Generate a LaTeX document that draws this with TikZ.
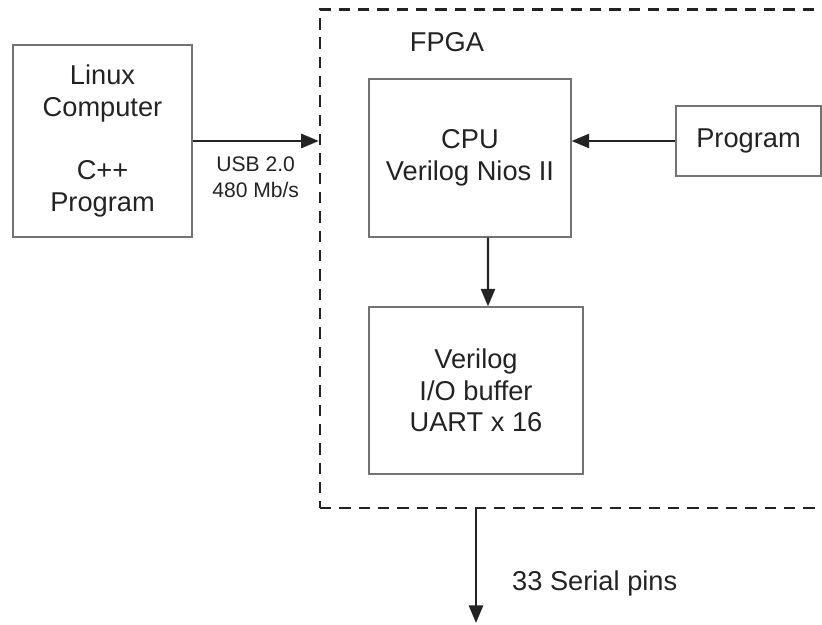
\documentclass[tikz,border=0pt]{standalone}
\usepackage{fontspec}
\setmainfont{Liberation Sans}
\usetikzlibrary{positioning, arrows.meta}
\definecolor{BoxGray}{RGB}{115,115,115}
\definecolor{InkGray}{RGB}{35,35,35}

\begin{document}
\begin{tikzpicture}[
    block/.style={draw=BoxGray, line width=0.7pt, align=center, text=InkGray,
      font=\fontsize{15.5}{18}\selectfont, inner sep=0pt},
    flow/.style={draw=InkGray, line width=1.4pt, -{Triangle[length=10pt,width=8pt]}},
    lbl/.style={text=InkGray, font=\fontsize{15.5}{18}\selectfont, inner sep=0pt}
  ]
    \clip (0,0) rectangle (16.44,12.5);

    % FPGA outline (runs off the right edge)
    \node[draw=InkGray, line width=1.4pt, dash pattern=on 6.5pt off 4.5pt,
      minimum width=10.2cm, minimum height=9.97cm] (fpga) at (11.5,7.325) {};
    \node[lbl] (fpganame) at (8.94,11.66) {FPGA};

    % Host
    \node[block, minimum width=3.58cm, minimum height=3.84cm] (linux) at (2.05,9.68)
      {Linux\\Computer\\[18pt]C++\\Program};

    % Inside the FPGA
    \node[block, minimum width=4.04cm, minimum height=3.16cm] (cpu) at (9.40,9.34)
      {CPU\\Verilog Nios II};
    \node[block, minimum width=2.9cm, minimum height=1.4cm] (prog) at (14.97,9.68) {Program};
    \node[block, minimum width=4.28cm, minimum height=3.34cm] (uart) at (9.52,4.69)
      {Verilog\\I/O buffer\\UART x 16};
    \coordinate (pins) at (9.52,0.04);

    % Links
    \draw[flow] (linux.east) -- node[below=0.3cm, align=center, text=InkGray, inner sep=0pt,
      font=\fontsize{12}{14.7}\selectfont] {USB 2.0\\480 Mb/s} (linux.east -| fpga.west);
    \draw[flow] (prog.west) -- (prog.west -| cpu.east);
    \draw[flow] ([xshift=0.36cm]cpu.south) -- ([xshift=0.24cm]uart.north);
    \draw[flow] (uart.south |- fpga.south) -- node[lbl, right=0.7cm, pos=0.65] {33 Serial pins} (pins);
\end{tikzpicture}
\end{document}
